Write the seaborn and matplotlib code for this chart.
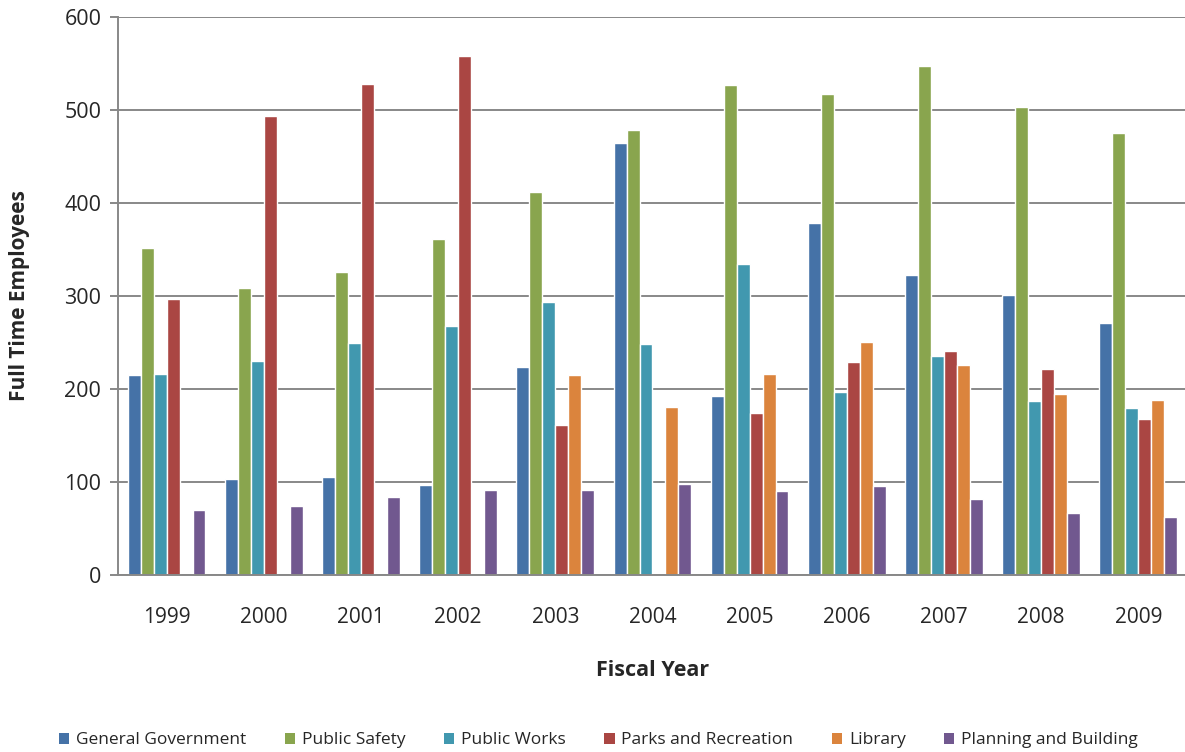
import numpy as np
import pandas as pd
import seaborn as sns
import matplotlib.pyplot as plt
from matplotlib.patches import Patch

years = ["1999", "2000", "2001", "2002", "2003", "2004", "2005", "2006", "2007", "2008", "2009"]
departments = ["General Government", "Public Safety", "Public Works",
               "Parks and Recreation", "Library", "Planning and Building"]

general_government = [215, 103, 105, 97, 224, 464, 192, 379, 323, 301, 271]
public_safety = [352, 309, 326, 361, 412, 479, 527, 517, 547, 503, 475]
public_works = [216, 230, 249, 268, 294, 248, 334, 197, 236, 187, 180]
parks_recreation = [297, 494, 528, 558, 161, 0, 174, 229, 241, 222, 168]
library = [0, 0, 0, 0, 215, 181, 216, 251, 226, 195, 188]
planning_building = [70, 74, 84, 91, 91, 98, 90, 96, 82, 67, 62]

colors = ["#4572A7", "#89A54E", "#4198AF", "#AA4643", "#DB843D", "#71588F"]

series = [general_government, public_safety, public_works,
          parks_recreation, library, planning_building]
rows = []
for dept, vals in zip(departments, series):
    for yr, v in zip(years, vals):
        rows.append({"Fiscal Year": yr, "Department": dept, "Employees": v})
df = pd.DataFrame(rows)

sns.set_style("white")
plt.rcParams["font.family"] = ["Open Sans", "DejaVu Sans"]

fig = plt.figure(figsize=(11.85, 7.52), dpi=100)
ax = fig.add_axes([0.0996, 0.2354, 0.902, 0.742])

sns.barplot(data=df, x="Fiscal Year", y="Employees", hue="Department",
            hue_order=departments, palette=colors, saturation=1, width=0.8,
            edgecolor="white", linewidth=1.0, legend=False, ax=ax)

ax.set_ylim(0, 600)
ax.set_xlim(-0.5, len(years) - 0.5)
ax.set_yticks(np.arange(0, 601, 100))
ax.yaxis.grid(True, color="#888888", linewidth=1.4)
ax.set_axisbelow(True)

for s in ["top", "right"]:
    ax.spines[s].set_visible(False)
for s in ["left", "bottom"]:
    ax.spines[s].set_color("#888888")
    ax.spines[s].set_linewidth(1.4)

ax.set_xticks(np.arange(-0.5, len(years), 1.0), minor=True)
ax.tick_params(axis="x", which="major", length=0, pad=23, labelsize=15)
ax.tick_params(axis="x", which="minor", length=7, width=1.4, color="#888888", direction="out")
ax.tick_params(axis="y", length=6, width=1.4, color="#888888", direction="out",
               labelsize=15.5, pad=6, left=True)

ax.set_xlabel("Fiscal Year", fontsize=15.5, fontweight="bold", labelpad=23)
ax.set_ylabel("Full Time Employees", fontsize=15, fontweight="bold", labelpad=25)

handles = [Patch(facecolor=c, edgecolor="none") for c in colors]
fig.legend(handles, departments, loc="lower center", ncol=6, frameon=False,
           fontsize=12.5, handlelength=0.6, handleheight=0.6, handletextpad=0.4,
           columnspacing=2.2, bbox_to_anchor=(0.505, -0.016))

fig.savefig("out.png", dpi=100)
